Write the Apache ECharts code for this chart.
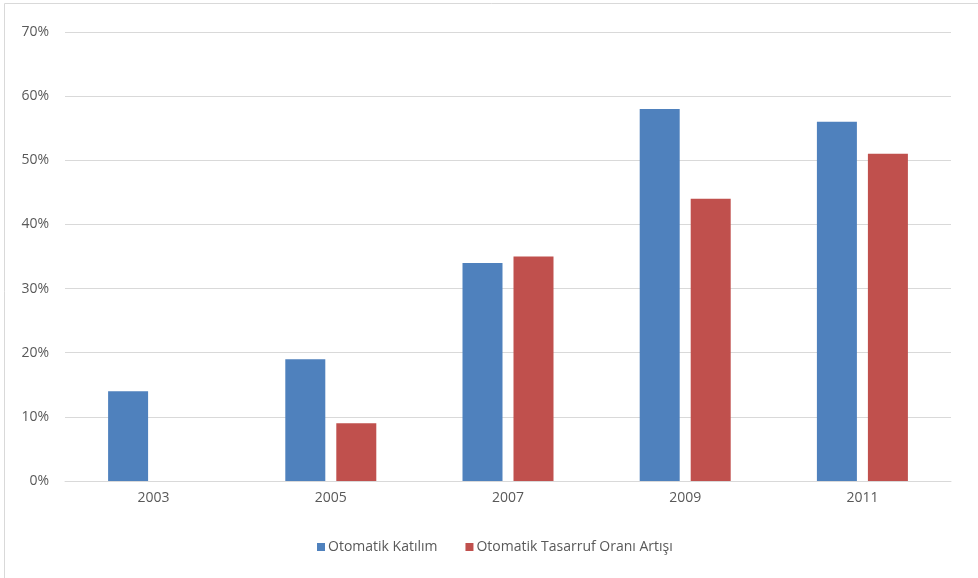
<!DOCTYPE html>
<html>
<head>
<meta charset="utf-8">
<script src="https://cdn.jsdelivr.net/npm/echarts@6/dist/echarts.min.js"></script>
<style>
html,body{margin:0;padding:0;background:#fff;}
#chart{width:978px;height:578px;}
</style>
</head>
<body>
<div id="chart"></div>
<script>
var categories = ['2003', '2005', '2007', '2009', '2011'];
var katilim = [14, 19, 34, 58, 56];
var tasarruf = [null, 9, 35, 44, 51];
var seriesNames = ['Otomatik Katılım', 'Otomatik Tasarruf Oranı Artışı'];
var yTicks = [0, 10, 20, 30, 40, 50, 60, 70];

var chart = echarts.init(document.getElementById('chart'));
var font = '"Open Sans", "Noto Sans", sans-serif';
chart.setOption({
  animation: false,
  textStyle: { fontFamily: font },
  graphic: [{
    type: 'rect',
    shape: { x: 4.5, y: 3.5, width: 1000, height: 1000 },
    style: { fill: 'none', stroke: '#d9d9d9', lineWidth: 1 }
  }],
  grid: { left: 65, right: 27, top: 32, bottom: 97 },
  legend: {
    top: 535,
    left: 312,
    itemWidth: 8,
    itemHeight: 8,
    itemGap: 28,
    icon: 'rect',
    textStyle: { color: '#595959', fontSize: 14, fontFamily: font, padding: [0, 0, 0, -2] },
    data: seriesNames
  },
  xAxis: {
    type: 'category',
    data: categories,
    axisLine: { lineStyle: { color: '#d9d9d9', width: 1 } },
    axisTick: { show: false },
    axisLabel: { color: '#595959', fontSize: 14, margin: 10, fontFamily: font }
  },
  yAxis: {
    type: 'value',
    min: yTicks[0],
    max: yTicks[yTicks.length - 1],
    interval: 10,
    axisLine: { show: false },
    axisTick: { show: false },
    splitLine: { lineStyle: { color: '#d9d9d9', width: 1 } },
    axisLabel: { color: '#595959', fontSize: 14, margin: 16, fontFamily: font, formatter: '{value}%' }
  },
  series: [{
    name: seriesNames[0],
    type: 'bar',
    data: katilim,
    barWidth: 40,
    barGap: '27.5%',
    itemStyle: { color: '#4F81BD' }
  }, {
    name: seriesNames[1],
    type: 'bar',
    data: tasarruf,
    barWidth: 40,
    itemStyle: { color: '#C0504D' }
  }]
});
</script>
</body>
</html>
